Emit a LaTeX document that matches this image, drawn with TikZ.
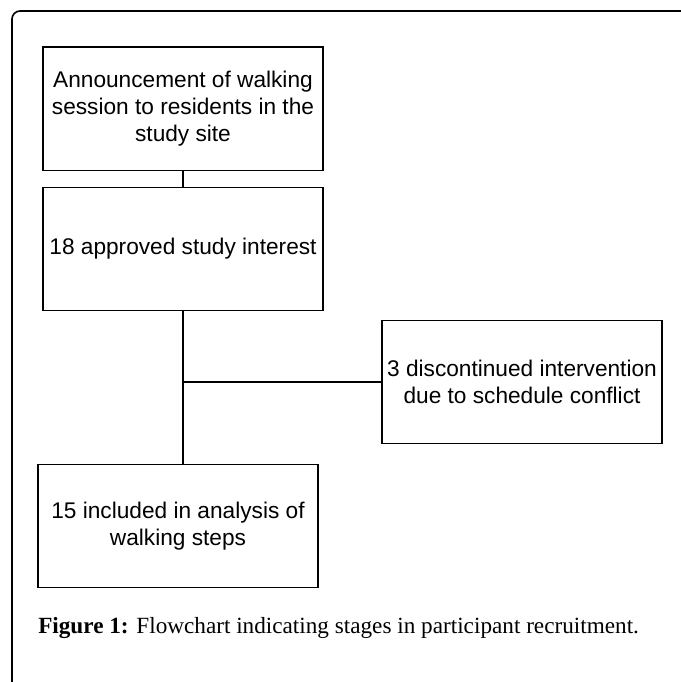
\documentclass[tikz,border=0pt]{standalone}
\usepackage{fontspec}
\setmainfont{Liberation Serif}
\newfontfamily\boxfont{Liberation Sans}
\begin{document}
\begin{tikzpicture}[x=0.75pt,y=-0.75pt,
  stage/.style={draw,line width=1pt,minimum width=210pt,minimum height=92.5pt,inner sep=0pt,align=center,
    font=\boxfont\fontsize{17}{20.3}\selectfont},
  link/.style={line width=1pt}]
\useasboundingbox (0,0) rectangle (681,682);
\draw[line width=1.2pt,rounded corners=6pt] (12,700)--(12,11)--(700,11);
\node[stage] (announce) at (183,108.5) {Announcement of walking\\session to residents in the\\study site};
\node[stage] (interest) at (183,249) {18 approved study interest};
\node[stage] (dropout) at (522,382) {3 discontinued intervention\\due to schedule conflict};
\node[stage] (analysis) at (178,526) {15 included in analysis of\\walking steps};
\coordinate (split) at (interest.south |- dropout.west);
\draw[link] (announce.south)--(interest.north);
\draw[link] (interest.south)--(interest.south |- analysis.north);
\draw[link] (split)--(dropout.west);
\node[anchor=base west,inner sep=0pt,font=\fontsize{17.4}{20}\selectfont] (caption) at (38,633) {\textbf{Figure 1:} Flowchart indicating stages in participant recruitment.};
\end{tikzpicture}
\end{document}
